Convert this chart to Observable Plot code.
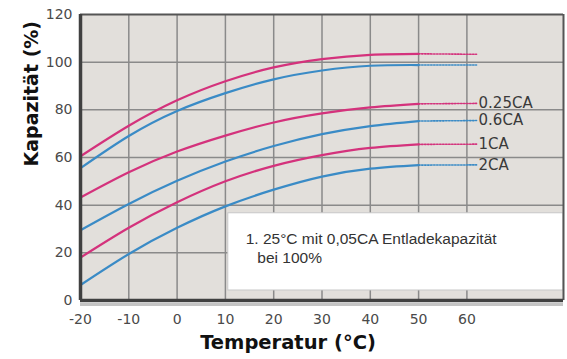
<!DOCTYPE html>
<html>
<head>
<meta charset="utf-8">
<script src="https://cdn.jsdelivr.net/npm/d3@7"></script>
<script src="https://cdn.jsdelivr.net/npm/@observablehq/plot@0.6"></script>
<style>
  html, body { margin: 0; padding: 0; background: #ffffff; }
  #chart svg { display: block; }
</style>
</head>
<body>
<div id="chart"></div>
<script>
// ---- data ----
const temps = [-20, -10, 0, 10, 20, 30, 40, 50];
const extTemps = [50, 62];
const seriesKeys = ["s1", "s2", "s3", "s4", "s5", "s6"];
const seriesLabels = ["", "", "0.25CA", "0.6CA", "1CA", "2CA"];
const seriesKinds = ["m", "b", "m", "b", "m", "b"];
const s1 = [60.5, 73.3, 84.0, 92.0, 97.8, 101.3, 103.1, 103.5];
const s2 = [55.5, 69.0, 79.5, 87.0, 92.8, 96.5, 98.5, 98.8];
const s3 = [43.2, 53.8, 62.5, 69.2, 74.7, 78.5, 81.0, 82.5];
const s4 = [29.5, 40.5, 50.2, 58.3, 64.8, 69.8, 73.2, 75.3];
const s5 = [18.0, 30.5, 41.2, 50.0, 56.5, 61.0, 64.0, 65.5];
const s6 = [6.5, 19.5, 30.5, 39.5, 46.5, 52.0, 55.3, 56.8];
const extEnd = [103.3, 98.8, 82.7, 75.5, 65.6, 56.9];
const xTicks = [-20, -10, 0, 10, 20, 30, 40, 50, 60];
const yTicks = [0, 20, 40, 60, 80, 100, 120];
const xGrid = [-10, 0, 10, 20, 30, 40, 50, 60];
const yGrid = [20, 40, 60, 80, 100];
const xTitle = "Temperatur (°C)";
const yTitle = "Kapazität (%)";
const noteLines = ["1. 25°C mit 0,05CA Entladekapazität", "bei 100%"];

// ---- build tables ----
const values = [s1, s2, s3, s4, s5, s6];
const solidRows = [];
const dotRows = [];
seriesKeys.forEach((k, i) => {
  temps.forEach((t, j) => solidRows.push({series: k, kind: seriesKinds[i], t, v: values[i][j]}));
  dotRows.push({series: k, kind: seriesKinds[i], t: extTemps[0], v: values[i][values[i].length - 1]});
  dotRows.push({series: k, kind: seriesKinds[i], t: extTemps[1], v: extEnd[i]});
});
const labelRows = seriesKeys.map((k, i) => ({label: seriesLabels[i], t: extTemps[1], v: extEnd[i]}))
  .filter(d => d.label);

const MAG = "#d4327c";
const BLU = "#3a8bc6";
const colorOf = d => d.kind === "m" ? MAG : BLU;

const chart = Plot.plot({
  width: 567,
  height: 359,
  marginLeft: 80,
  marginRight: 4,
  marginTop: 14,
  marginBottom: 59,
  style: {fontFamily: "DejaVu Sans", fontSize: "14px", color: "#4a4a4a", background: "#ffffff"},
  x: {domain: [-20, 80], axis: null},
  y: {domain: [0, 120], axis: null},
  marks: [
    Plot.frame({fill: "#e2dfdb", stroke: null}),
    Plot.ruleX(xGrid, {stroke: "#8a8a8a", strokeWidth: 1.5}),
    Plot.ruleY(yGrid, {stroke: "#8a8a8a", strokeWidth: 1.5}),
    // note box
    Plot.rect([0], {x1: 10.6, x2: 80, y1: 4.2, y2: 36.6, fill: "#ffffff", stroke: "#c8c8c8", strokeWidth: 1}),
    Plot.text([noteLines[0]], {x: 14.2, y: 26.0, text: d => d, textAnchor: "start",
      fontFamily: "Liberation Sans", fontSize: 15.5, fill: "#333333"}),
    Plot.text([noteLines[1]], {x: 16.6, y: 17.8, text: d => d, textAnchor: "start",
      fontFamily: "Liberation Sans", fontSize: 15.5, fill: "#333333"}),
    // curves
    Plot.line(dotRows, {x: "t", y: "v", z: "series", stroke: colorOf, strokeWidth: 1.6,
      strokeDasharray: "1.5,1.5"}),
    Plot.line(solidRows, {x: "t", y: "v", z: "series", stroke: colorOf, strokeWidth: 2.2,
      curve: "natural"}),
    Plot.text(labelRows, {x: "t", y: "v", text: "label", textAnchor: "start", dx: 2,
      fontFamily: "DejaVu Sans", fontSize: 15, fill: "#3a3a3a"}),
    // frame borders
    Plot.ruleY([0], {dy: 4, stroke: "#c4c4c4", strokeWidth: 3}),
    Plot.ruleY([120], {stroke: "#555555", strokeWidth: 2}),
    Plot.ruleX([80], {stroke: "#555555", strokeWidth: 2}),
    Plot.ruleX([-20], {stroke: "#404040", strokeWidth: 3.5}),
    Plot.ruleY([0], {stroke: "#404040", strokeWidth: 3.5}),
    // axes
    Plot.axisX(xTicks, {tickSize: 0, tickPadding: 14, fontSize: 14, fill: "#4a4a4a",
      label: null, tickFormat: d => String(d)}),
    Plot.axisY(yTicks, {tickSize: 0, tickPadding: 8, fontSize: 14, fill: "#4a4a4a",
      label: null, tickFormat: d => String(d)}),
    // axis titles
    Plot.text([xTitle], {frameAnchor: "bottom", text: d => d, dx: -34, dy: 48,
      fontFamily: "DejaVu Sans", fontWeight: "bold", fontSize: 19.5, fill: "#111111"}),
    Plot.text([yTitle], {frameAnchor: "left", text: d => d, rotate: -90, dx: -49, dy: 9,
      fontFamily: "DejaVu Sans", fontWeight: "bold", fontSize: 19, fill: "#111111"})
  ]
});
document.getElementById("chart").appendChild(chart);
</script>
</body>
</html>
